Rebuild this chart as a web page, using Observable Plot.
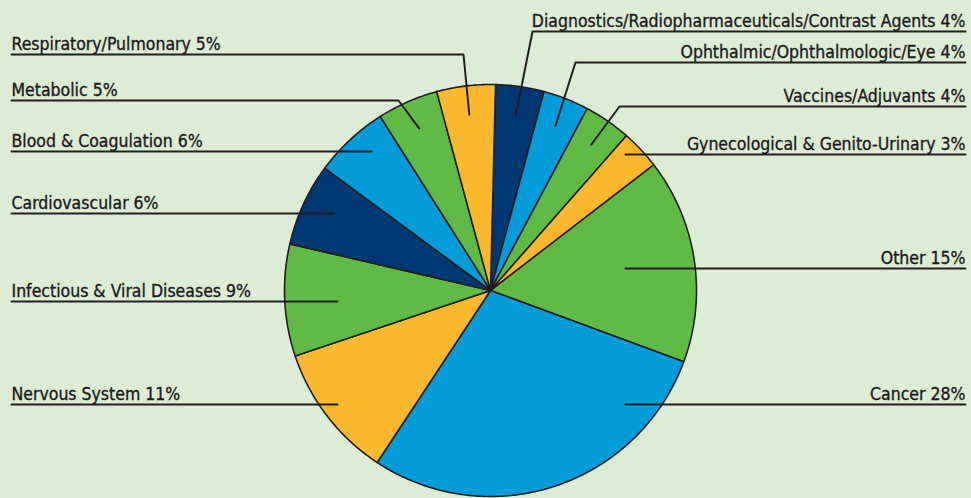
<!DOCTYPE html>
<html><head><meta charset="utf-8">
<script src="https://cdn.jsdelivr.net/npm/d3@7"></script>
<script src="https://cdn.jsdelivr.net/npm/@observablehq/plot@0.6"></script>
<style>
html,body{margin:0;padding:0;background:#ddedd5;overflow:hidden;}
#chart svg{display:block;}
</style></head><body><div id="chart"></div>
<script>
// ---- data ----
const categories = [
  "Diagnostics/Radiopharmaceuticals/Contrast Agents",
  "Ophthalmic/Ophthalmologic/Eye",
  "Vaccines/Adjuvants",
  "Gynecological & Genito-Urinary",
  "Other",
  "Cancer",
  "Nervous System",
  "Infectious & Viral Diseases",
  "Cardiovascular",
  "Blood & Coagulation",
  "Metabolic",
  "Respiratory/Pulmonary"
];
const labelPercents = [4, 4, 4, 3, 15, 28, 11, 9, 6, 6, 5, 5];
// slice shares as drawn in the picture (%)
const shares = [3.8, 3.6, 3.7, 3.1, 16.1, 28.7, 10.6, 8.8, 6.5, 5.9, 4.8, 4.6];

// ---- layout (annotation placement, not data) ----
const W = 971, H = 498;
const cx = 490, cy = 290, R = 206;
const startDeg = 1.4;
const palette = ["#003874", "#009bd9", "#62ba46", "#fdb92d", "#62ba46", "#009bd9",
                 "#fdb92d", "#62ba46", "#003874", "#009bd9", "#62ba46", "#fdb92d"];
const labelLayout = {
  "Diagnostics/Radiopharmaceuticals/Contrast Agents": {side: "right", row: 31, elbowX: 532},
  "Ophthalmic/Ophthalmologic/Eye": {side: "right", row: 62, elbowX: 575},
  "Vaccines/Adjuvants": {side: "right", row: 106, elbowX: 619},
  "Gynecological & Genito-Urinary": {side: "right", row: 154, anchorX: 625},
  "Other": {side: "right", row: 268, anchorX: 625},
  "Cancer": {side: "right", row: 404, anchorX: 625},
  "Nervous System": {side: "left", row: 404, anchorX: 337},
  "Infectious & Viral Diseases": {side: "left", row: 301, anchorX: 337},
  "Cardiovascular": {side: "left", row: 213, anchorX: 333},
  "Blood & Coagulation": {side: "left", row: 151, anchorX: 371},
  "Metabolic": {side: "left", row: 100, elbowX: 398},
  "Respiratory/Pulmonary": {side: "left", row: 54, elbowX: 463}
};
const leftX = 11, rightX = 965;

// ---- geometry via d3.pie ----
const rows = categories.map((name, i) => ({name, pct: labelPercents[i], share: shares[i]}));
const a0 = startDeg * Math.PI / 180;
const arcs = d3.pie().sort(null).value(d => d.share).startAngle(a0).endAngle(a0 + 2 * Math.PI)(rows);
const polar = (a, r) => [cx + r * Math.sin(a), cy - r * Math.cos(a)];

const slicePts = arcs.flatMap(a => {
  const pts = [{name: a.data.name, x: cx, y: cy}];
  const n = Math.max(8, Math.ceil((a.endAngle - a.startAngle) / 0.01));
  for (let k = 0; k <= n; k++) {
    const t = a.startAngle + (a.endAngle - a.startAngle) * k / n;
    const [x, y] = polar(t, R);
    pts.push({name: a.data.name, x, y});
  }
  pts.push({name: a.data.name, x: cx, y: cy});
  return pts;
});

const leaderPts = arcs.flatMap(a => {
  const L = labelLayout[a.data.name];
  const edge = L.side === "left" ? leftX : rightX;
  const pts = [{name: a.data.name, x: edge, y: L.row}];
  if (L.elbowX !== undefined) {
    const [ax, ay] = polar((a.startAngle + a.endAngle) / 2, R * 0.86);
    pts.push({name: a.data.name, x: L.elbowX, y: L.row});
    pts.push({name: a.data.name, x: ax, y: ay});
  } else {
    pts.push({name: a.data.name, x: L.anchorX, y: L.row});
  }
  return pts;
});

const labels = rows.map(d => {
  const L = labelLayout[d.name];
  return {text: `${d.name} ${d.pct}%`, x: L.side === "left" ? leftX : rightX, y: L.row, anchor: L.side === "left" ? "start" : "end"};
});

const font = "'DejaVu Sans Condensed', 'DejaVu Sans', sans-serif";
const textOpts = {x: "x", y: "y", text: "text", lineAnchor: "bottom", dy: -5, fontSize: 17.5, fontFamily: font,
                  fill: "#1c1a1b", stroke: "#1c1a1b", strokeWidth: 0.35};

const chart = Plot.plot({
  width: W, height: H, margin: 0,
  x: {domain: [0, W], range: [0, W], axis: null},
  y: {domain: [0, H], range: [0, H], axis: null},
  color: {domain: categories, range: palette},
  style: {background: "#ddedd5", overflow: "visible"},
  marks: [
    Plot.line(slicePts, {x: "x", y: "y", z: "name", fill: "name", stroke: "#231f20", strokeWidth: 1.6, strokeLinejoin: "round"}),
    Plot.line(leaderPts, {x: "x", y: "y", z: "name", stroke: "#231f20", strokeWidth: 2}),
    Plot.text(labels.filter(d => d.anchor === "start"), {...textOpts, textAnchor: "start"}),
    Plot.text(labels.filter(d => d.anchor === "end"), {...textOpts, textAnchor: "end"})
  ]
});
document.getElementById("chart").appendChild(chart);
</script>
</body></html>
